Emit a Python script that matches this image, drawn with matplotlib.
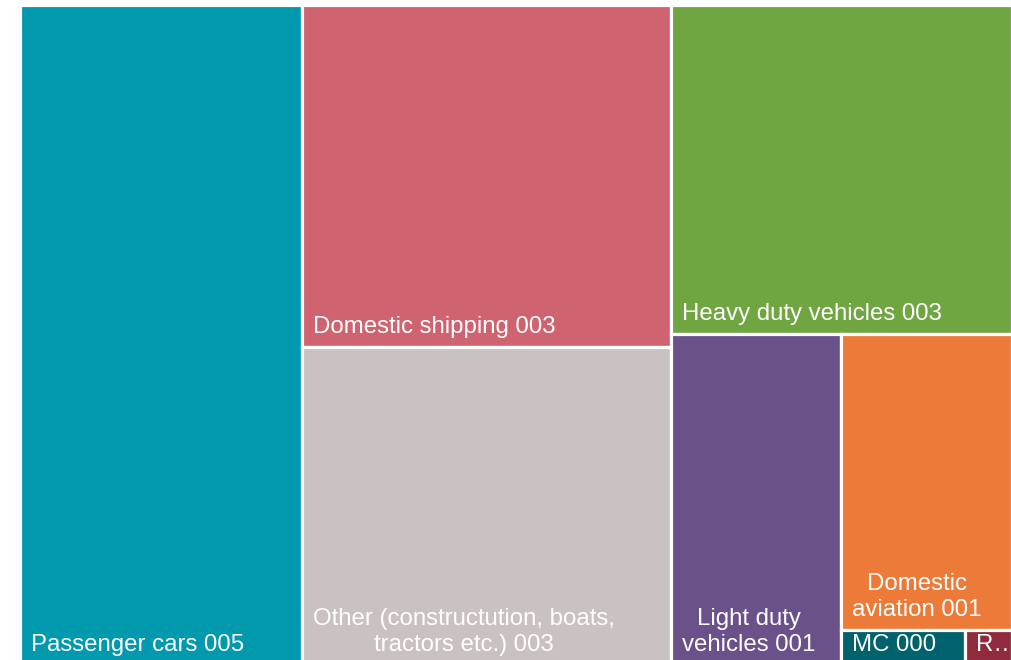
import matplotlib
matplotlib.use("Agg")
import matplotlib.pyplot as plt
from matplotlib.patches import Rectangle

# ---- data ----
categories = ["Passenger cars", "Domestic shipping", "Other (construction)",
              "Heavy duty vehicles", "Light duty vehicles", "Domestic aviation",
              "MC", "Railways"]
values = [28.38, 19.27, 17.97, 17.14, 8.59, 7.73, 0.66, 0.25]
labels = ["Passenger cars 005", "Domestic shipping 003",
          "Other (constructution, boats,\ntractors etc.) 003",
          "Heavy duty vehicles 003", "Light duty\nvehicles 001",
          "Domestic\naviation 001", "MC 000", "R…"]
colors = ["#0099AD", "#CF636F", "#C9C2BF", "#6FA642", "#6A5189",
          "#EC7A38", "#00626C", "#8F2B3D"]

# nested slice-and-dice structure (alternating x / y splits)
tree = [0, [1, 2], [3, [4, [5, [6, 7]]]]]

W, H = 992.0, 660.0
total = sum(values)
areas = [v / total * W * H for v in values]


def node_area(n):
    if isinstance(n, list):
        return sum(node_area(c) for c in n)
    return areas[n]


rects = {}


def layout(node, x, y, w, h, along_x):
    if not isinstance(node, list):
        rects[node] = (x, y, w, h)
        return
    tot = node_area(node)
    pos = x if along_x else y
    for child in node:
        frac = node_area(child) / tot
        if along_x:
            cw = w * frac
            layout(child, pos, y, cw, h, not along_x)
            pos += cw
        else:
            ch = h * frac
            layout(child, x, pos, w, ch, not along_x)
            pos += ch


layout(tree, 0, 0, W, H, True)

fig = plt.figure(figsize=(10.12, 6.6), dpi=100)
ax = fig.add_axes([20 / 1012, -5 / 660, 992 / 1012, 660 / 660])
ax.set_xlim(0, W)
ax.set_ylim(H, 0)
ax.axis("off")

for i in range(len(values)):
    x, y, w, h = rects[i]
    ax.add_patch(Rectangle((x, y), w, h, facecolor=colors[i],
                           edgecolor="white", linewidth=2.3))
    ax.annotate(labels[i], xy=(x, y + h), xytext=(11, 9),
                textcoords="offset pixels", ha="left", va="bottom",
                multialignment="center", color="white", fontsize=17.3,
                family="Liberation Sans", linespacing=1.22,
                annotation_clip=False)

fig.savefig("out.png", dpi=100)
